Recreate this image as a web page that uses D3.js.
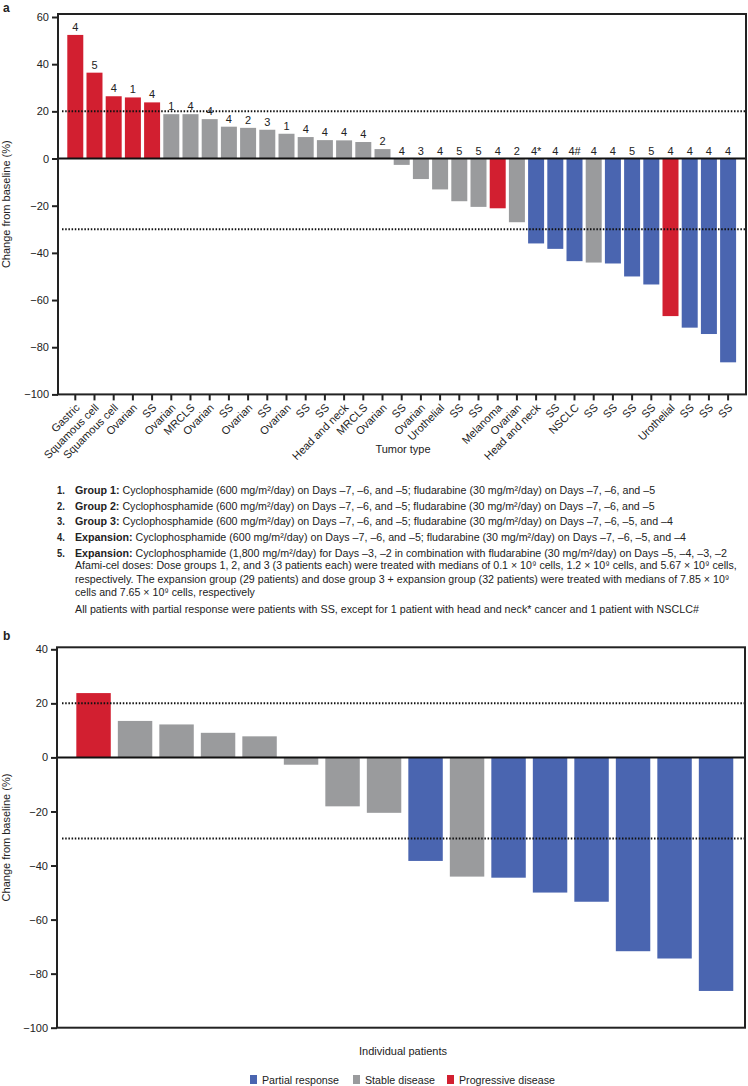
<!DOCTYPE html>
<html>
<head>
<meta charset="utf-8">
<script src="https://cdn.jsdelivr.net/npm/d3@7"></script>
<style>
  body { margin: 0; background: #fff; }
  text { font-family: "Liberation Sans", Arial, sans-serif; fill: #222; }
</style>
</head>
<body>
<script>
//tumor type of each patient, panel a (sorted by change)
var tumorTypes = ["Gastric", "Squamous cell", "Squamous cell", "Ovarian", "SS", "Ovarian", "MRCLS", "Ovarian",
    "SS", "Ovarian", "SS", "Ovarian", "SS", "SS", "Head and neck", "MRCLS", "Ovarian", "SS", "Ovarian",
    "Urothelial", "SS", "SS", "Melanoma", "Ovarian", "Head and neck", "SS", "NSCLC", "SS", "SS", "SS", "SS",
    "Urothelial", "SS", "SS", "SS"];

//best change from baseline (%), panel a
var changeA = [52.4, 36.4, 26.4, 25.9, 23.8, 18.8, 18.8, 16.7, 13.5, 13.0, 12.2, 10.5, 9.1, 7.8, 7.7, 7.0, 4.0,
    -2.7, -8.7, -13.1, -18.1, -20.5, -21.1, -27.0, -36.0, -38.3, -43.5, -44.1, -44.5, -50.0, -53.4, -66.8,
    -71.7, -74.4, -86.4];

//lymphodepletion group printed over each bar
var groupA = ["4", "5", "4", "1", "4", "1", "4", "4", "4", "2", "3", "1", "4", "4", "4", "4", "2", "4", "3",
    "4", "5", "5", "4", "2", "4*", "4", "4#", "4", "4", "5", "5", "4", "4", "4", "4"];

//best overall response, panel a
var responseA = ["PD", "PD", "PD", "PD", "PD", "SD", "SD", "SD", "SD", "SD", "SD", "SD", "SD", "SD", "SD", "SD",
    "SD", "SD", "SD", "SD", "SD", "SD", "PD", "SD", "PR", "PR", "PR", "SD", "PR", "PR", "PR", "PD", "PR", "PR", "PR"];

//panel b: patients with SS only
var changeB = [23.8, 13.5, 12.2, 9.1, 7.8, -2.7, -18.1, -20.5, -38.3, -44.1, -44.5, -50.0, -53.4, -71.7, -74.4, -86.4];
var responseB = ["PD", "SD", "SD", "SD", "SD", "SD", "SD", "SD", "PR", "SD", "PR", "PR", "PR", "PR", "PR", "PR"];

//tick values and reference lines
var ticksA = [60, 40, 20, 0, -20, -40, -60, -80, -100];
var ticksB = [40, 20, 0, -20, -40, -60, -80, -100];
var refLines = [20, -30];

//legend
var legendKeys = ["PR", "SD", "PD"];
var legendNames = ["Partial response", "Stable disease", "Progressive disease"];

//footnotes: [number, bold lead, rest]
var footNotes = [
    ["1.", "Group 1:", " Cyclophosphamide (600 mg/m²/day) on Days –7, –6, and –5; fludarabine (30 mg/m²/day) on Days –7, –6, and –5"],
    ["2.", "Group 2:", " Cyclophosphamide (600 mg/m²/day) on Days –7, –6, and –5; fludarabine (30 mg/m²/day) on Days –7, –6, and –5"],
    ["3.", "Group 3:", " Cyclophosphamide (600 mg/m²/day) on Days –7, –6, and –5; fludarabine (30 mg/m²/day) on Days –7, –6, –5, and –4"],
    ["4.", "Expansion:", " Cyclophosphamide (600 mg/m²/day) on Days –7, –6, and –5; fludarabine (30 mg/m²/day) on Days –7, –6, –5, and –4"],
    ["5.", "Expansion:", " Cyclophosphamide (1,800 mg/m²/day) for Days –3, –2 in combination with fludarabine (30 mg/m²/day) on Days –5, –4, –3, –2"],
    ["", "", "Afami-cel doses: Dose groups 1, 2, and 3 (3 patients each) were treated with medians of 0.1 × 10⁹ cells, 1.2 × 10⁹ cells, and 5.67 × 10⁹ cells,"],
    ["", "", "respectively. The expansion group (29 patients) and dose group 3 + expansion group (32 patients) were treated with medians of 7.85 × 10⁹"],
    ["", "", "cells and 7.65 × 10⁹ cells, respectively"],
    ["", "", "All patients with partial response were patients with SS, except for 1 patient with head and neck* cancer and 1 patient with NSCLC#"]
];
var footY = [494, 510, 525, 541, 557, 569, 583, 596, 613];
var footEnd = [656, 655, 674, 687, 728, 738, 730, 255, 699];

window.onload = function(){

    var w = 748, h = 1086;

    var color = d3.scaleOrdinal()
        .domain(["PR", "SD", "PD"])
        .range(["#4a65b0", "#9a9b9d", "#d21f30"]);

    var svg = d3.select("body")
        .append("svg")
        .attr("width", w)
        .attr("height", h);

    //================= panel a =================
    var a = { left: 58, right: 746, top: 14, bottom: 394.4 };

    var xA = d3.scaleBand()
        .domain(d3.range(changeA.length))
        .range([65.7, 737.7])
        .paddingInner(0.167)
        .paddingOuter(0.083);

    var yA = d3.scaleLinear()
        .domain([-100, 60])
        .range([a.bottom, 17]);

    svg.append("text")
        .attr("x", 3).attr("y", 12)
        .style("font-size", "12px").style("font-weight", "bold")
        .text("a");

    //bars
    svg.selectAll(".barA")
        .data(changeA)
        .enter()
        .append("rect")
        .attr("class", "barA")
        .attr("x", function(d, i){ return xA(i); })
        .attr("width", xA.bandwidth())
        .attr("y", function(d){ return yA(Math.max(0, d)); })
        .attr("height", function(d){ return Math.abs(yA(d) - yA(0)); })
        .style("fill", function(d, i){ return color(responseA[i]); });

    //group numbers above bars (or above zero for negative bars)
    svg.selectAll(".grpA")
        .data(changeA)
        .enter()
        .append("text")
        .attr("class", "grpA")
        .attr("text-anchor", "middle")
        .attr("x", function(d, i){ return xA(i) + xA.bandwidth() / 2; })
        .attr("y", function(d){ return yA(Math.max(0, d)) - 4; })
        .style("font-size", "11px")
        .text(function(d, i){ return groupA[i]; });

    //dotted reference lines
    svg.selectAll(".refA")
        .data(refLines)
        .enter()
        .append("line")
        .attr("x1", 62).attr("x2", a.right)
        .attr("y1", function(d){ return yA(d); })
        .attr("y2", function(d){ return yA(d); })
        .style("stroke", "#111").style("stroke-width", 2)
        .style("stroke-dasharray", "1.5,1.7");

    //zero line
    svg.append("line")
        .attr("x1", a.left).attr("x2", a.right)
        .attr("y1", yA(0)).attr("y2", yA(0))
        .style("stroke", "#111").style("stroke-width", 2);

    //frame
    svg.append("rect")
        .attr("x", a.left).attr("y", a.top)
        .attr("width", a.right - a.left).attr("height", a.bottom - a.top)
        .style("fill", "none").style("stroke", "#222").style("stroke-width", 2);

    //y axis
    var yAxisA = svg.append("g")
        .attr("transform", "translate(" + a.left + ",0)")
        .call(d3.axisLeft(yA).tickValues(ticksA).tickSize(6).tickPadding(3));
    yAxisA.select(".domain").remove();
    yAxisA.selectAll("line").style("stroke", "#222").style("stroke-width", 2);
    yAxisA.selectAll("text").style("font-size", "11px").style("font-family", null);

    //x axis with tumor types
    var xAxisA = svg.append("g")
        .attr("transform", "translate(0," + a.bottom + ")")
        .call(d3.axisBottom(xA).tickSize(6).tickFormat(function(i){ return tumorTypes[i]; }));
    xAxisA.select(".domain").remove();
    xAxisA.selectAll("line").style("stroke", "#222").style("stroke-width", 2);
    xAxisA.selectAll("text")
        .attr("x", 0).attr("y", 0).attr("dy", 0)
        .attr("transform", "translate(5,14) rotate(-45)")
        .style("text-anchor", "end")
        .style("font-size", "11px")
        .style("font-family", null);

    svg.append("text")
        .attr("text-anchor", "middle")
        .attr("x", 403).attr("y", 453)
        .style("font-size", "11px")
        .text("Tumor type");

    svg.append("text")
        .attr("text-anchor", "middle")
        .attr("transform", "translate(10," + (a.top + a.bottom) / 2 + ") rotate(-90)")
        .style("font-size", "11px")
        .text("Change from baseline (%)");

    //================= footnotes =================
    footNotes.forEach(function(f, i){
        if (f[0]) {
            svg.append("text")
                .attr("x", 57).attr("y", footY[i])
                .style("font-size", "11px").style("font-weight", "bold")
                .attr("transform", "translate(57," + footY[i] + ") scale(0.85,1) translate(-57," + (-footY[i]) + ")")
                .text(f[0]);
        }
        var t = svg.append("text")
            .attr("x", 0).attr("y", 0)
            .style("font-size", "11px");
        if (f[1]) {
            t.append("tspan").style("font-weight", "bold").text(f[1]);
        }
        t.append("tspan").text(f[2]);
        var len = t.node().getComputedTextLength();
        var s = (footEnd[i] - 75) / len;
        t.attr("transform", "translate(75," + footY[i] + ") scale(" + s + ",1)");
    });

    //================= panel b =================
    var b = { left: 57, right: 745, top: 647.3, bottom: 1027.7 };

    var xB = d3.scaleBand()
        .domain(d3.range(changeB.length))
        .range([72.8, 736.8])
        .paddingInner(0.17)
        .paddingOuter(0.085);

    var yB = d3.scaleLinear()
        .domain([-100, 40])
        .range([b.bottom, 649.3]);

    svg.append("text")
        .attr("x", 3).attr("y", 640)
        .style("font-size", "12px").style("font-weight", "bold")
        .text("b");

    svg.selectAll(".barB")
        .data(changeB)
        .enter()
        .append("rect")
        .attr("class", "barB")
        .attr("x", function(d, i){ return xB(i); })
        .attr("width", xB.bandwidth())
        .attr("y", function(d){ return yB(Math.max(0, d)); })
        .attr("height", function(d){ return Math.abs(yB(d) - yB(0)); })
        .style("fill", function(d, i){ return color(responseB[i]); });

    svg.selectAll(".refB")
        .data(refLines)
        .enter()
        .append("line")
        .attr("x1", 62).attr("x2", b.right)
        .attr("y1", function(d){ return yB(d); })
        .attr("y2", function(d){ return yB(d); })
        .style("stroke", "#111").style("stroke-width", 2)
        .style("stroke-dasharray", "1.5,1.7");

    svg.append("line")
        .attr("x1", b.left).attr("x2", b.right)
        .attr("y1", yB(0)).attr("y2", yB(0))
        .style("stroke", "#111").style("stroke-width", 2);

    svg.append("rect")
        .attr("x", b.left).attr("y", b.top)
        .attr("width", b.right - b.left).attr("height", b.bottom - b.top)
        .style("fill", "none").style("stroke", "#222").style("stroke-width", 2);

    var yAxisB = svg.append("g")
        .attr("transform", "translate(" + b.left + ",0)")
        .call(d3.axisLeft(yB).tickValues(ticksB).tickSize(6).tickPadding(3));
    yAxisB.select(".domain").remove();
    yAxisB.selectAll("line").style("stroke", "#222").style("stroke-width", 2);
    yAxisB.selectAll("text").style("font-size", "11px").style("font-family", null);

    svg.append("text")
        .attr("text-anchor", "middle")
        .attr("x", 403).attr("y", 1055)
        .style("font-size", "11px")
        .text("Individual patients");

    svg.append("text")
        .attr("text-anchor", "middle")
        .attr("transform", "translate(10," + (b.top + b.bottom) / 2 + ") rotate(-90)")
        .style("font-size", "11px")
        .text("Change from baseline (%)");

    //legend
    var legX = [250, 353, 447];
    var legW = [77, 70, 96];
    var leg = svg.selectAll(".leg")
        .data(legendKeys)
        .enter()
        .append("g")
        .attr("class", "leg")
        .attr("transform", function(d, i){ return "translate(" + legX[i] + ",1075)"; });
    leg.append("rect")
        .attr("width", 7).attr("height", 9)
        .style("fill", function(d){ return color(d); });
    leg.append("text")
        .attr("x", 12).attr("y", 9)
        .attr("textLength", function(d, i){ return legW[i]; })
        .attr("lengthAdjust", "spacingAndGlyphs")
        .style("font-size", "11px")
        .text(function(d, i){ return legendNames[i]; });
};
</script>
</body>
</html>
